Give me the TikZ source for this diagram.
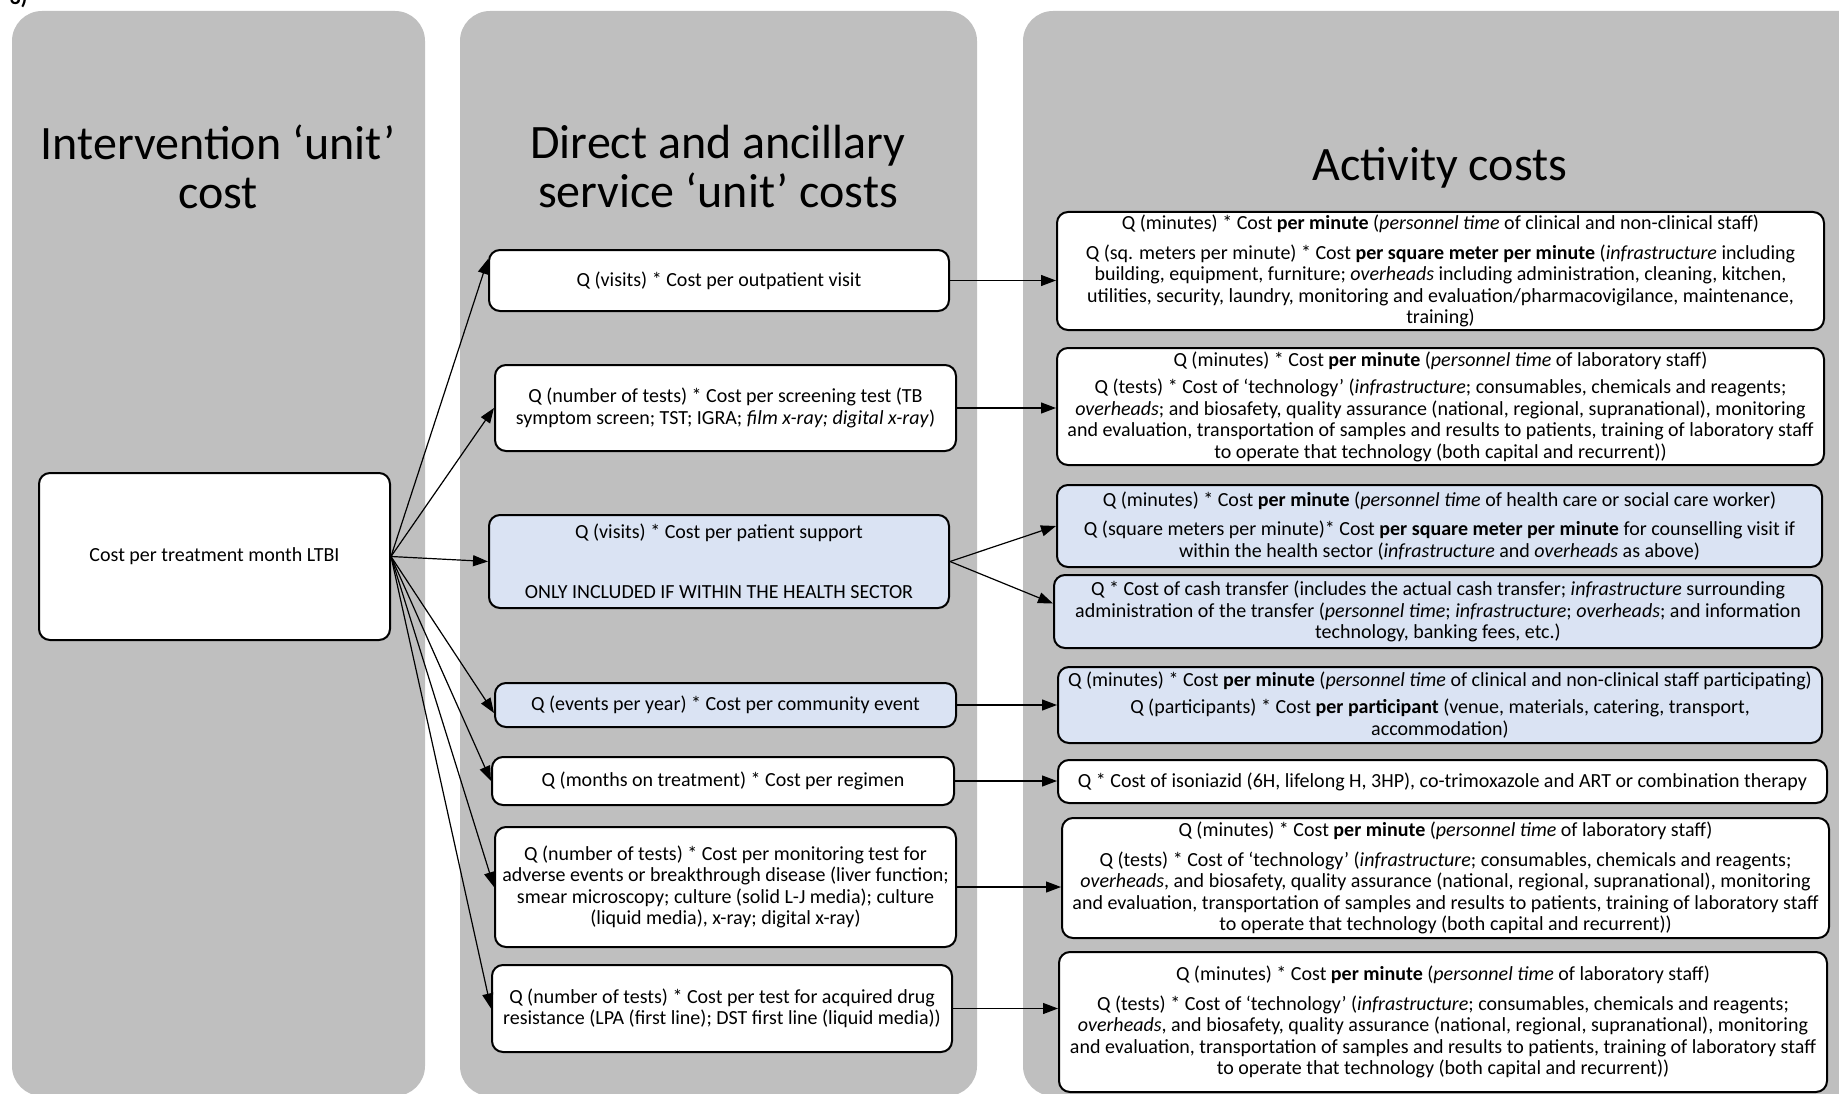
\documentclass[tikz,border=0pt]{standalone}
\usepackage{fontspec}
\setmainfont{Carlito}
\usetikzlibrary{arrows.meta}
\definecolor{panelgray}{HTML}{BFBFBF}
\definecolor{boxblue}{HTML}{DAE3F3}
\tikzset{
  panel/.style={fill=panelgray, rounded corners=30pt},
  costbox/.style={draw=black, line width=2pt, rounded corners=11pt, fill=white, align=center, inner sep=2pt, font=\fontsize{20}{21.5}\selectfont},
  bluebox/.style={costbox, fill=boxblue},
  heading/.style={align=center, font=\fontsize{48}{49}\selectfont},
  link/.style={-{Triangle[length=15pt,width=11pt]}, line width=1.2pt},
}
\begin{document}
\begin{tikzpicture}[x=1pt,y=-1pt]
\useasboundingbox (0,0) rectangle (1839,1094);
\fill[panel] (12,11) rectangle (425,1096);
\fill[panel] (460,11) rectangle (977,1096);
\fill[panel] (1023,11) rectangle (1880,1096);
\node[anchor=base west, font=\bfseries\fontsize{22}{22}\selectfont] (fig3) at (6,5) {3)};
\node[heading] (head1) at (218,166.5) {Intervention ‘unit’\\cost};
\node[heading] (head2) at (718,166.5) {Direct and ancillary\\service ‘unit’ costs};
\node[heading] (head3) at (1440,168) {Activity costs};
\node[costbox, minimum width=351pt, minimum height=167pt] (unit0) at (214.5,556.5) {Cost per treatment month LTBI};
\node[costbox, minimum width=460pt, minimum height=61pt] (serv1) at (719,280.5) {Q (visits) * Cost per outpatient visit};
\node[costbox, minimum width=461pt, minimum height=86pt] (serv2) at (725.5,408) {Q (number of tests) * Cost per screening test (TB\\symptom screen; TST; IGRA; \textit{film x-ray; digital x-ray})};
\node[bluebox, minimum width=460pt, minimum height=93pt] (serv3) at (719,561.5) {Q (visits) * Cost per patient support\\[38pt]ONLY INCLUDED IF WITHIN THE HEALTH SECTOR};
\node[bluebox, minimum width=461pt, minimum height=44pt] (serv4) at (725.5,705) {Q (events per year) * Cost per community event};
\node[costbox, minimum width=462pt, minimum height=48pt] (serv5) at (723,781) {Q (months on treatment) * Cost per regimen};
\node[costbox, minimum width=461pt, minimum height=120pt] (serv6) at (725.5,887) {Q (number of tests) * Cost per monitoring test for\\adverse events or breakthrough disease (liver function;\\smear microscopy; culture (solid L-J media); culture\\(liquid media), x-ray; digital x-ray)};
\node[costbox, minimum width=460pt, minimum height=87pt] (serv7) at (722,1008.5) {Q (number of tests) * Cost per test for acquired drug\\resistance (LPA (first line); DST first line (liquid media))};
\node[costbox, minimum width=767pt, minimum height=118pt] (act1) at (1440.5,271) {Q (minutes) * Cost \textbf{per minute} (\textit{personnel time} of clinical and non-clinical staff)\\[8pt]Q (sq. meters per minute) * Cost \textbf{per square meter per minute} (\textit{infrastructure} including\\building, equipment, furniture; \textit{overheads} including administration, cleaning, kitchen,\\utilities, security, laundry, monitoring and evaluation/pharmacovigilance, maintenance,\\training)};
\node[costbox, minimum width=767pt, minimum height=117pt] (act2) at (1440.5,406.5) {Q (minutes) * Cost \textbf{per minute} (\textit{personnel time} of laboratory staff)\\[6pt]Q (tests) * Cost of ‘technology’ (\textit{infrastructure}; consumables, chemicals and reagents;\\\textit{overheads}; and biosafety, quality assurance (national, regional, supranational), monitoring\\and evaluation, transportation of samples and results to patients, training of laboratory staff\\to operate that technology (both capital and recurrent))};
\node[bluebox, minimum width=765pt, minimum height=82pt] (act3) at (1439.5,526) {Q (minutes) * Cost \textbf{per minute} (\textit{personnel time} of health care or social care worker)\\[8pt]Q (square meters per minute)* Cost \textbf{per square meter per minute} for counselling visit if\\within the health sector (\textit{infrastructure} and \textit{overheads} as above)};
\node[bluebox, minimum width=768pt, minimum height=73pt] (act4) at (1438,611.5) {Q * Cost of cash transfer (includes the actual cash transfer; \textit{infrastructure} surrounding\\administration of the transfer (\textit{personnel time}; \textit{infrastructure}; \textit{overheads}; and information\\technology, banking fees, etc.)};
\node[bluebox, minimum width=764pt, minimum height=76pt] (act5) at (1440,705) {Q (minutes) * Cost \textbf{per minute} (\textit{personnel time} of clinical and non-clinical staff participating)\\[6pt]Q (participants) * Cost \textbf{per participant} (venue, materials, catering, transport,\\accommodation)};
\node[costbox, minimum width=769pt, minimum height=43pt] (act6) at (1442.5,781.5) {Q * Cost of isoniazid (6H, lifelong H, 3HP), co-trimoxazole and ART or combination therapy};
\node[costbox, minimum width=767pt, minimum height=120pt] (act7) at (1445.5,878) {Q (minutes) * Cost \textbf{per minute} (\textit{personnel time} of laboratory staff)\\[8pt]Q (tests) * Cost of ‘technology’ (\textit{infrastructure}; consumables, chemicals and reagents;\\\textit{overheads}, and biosafety, quality assurance (national, regional, supranational), monitoring\\and evaluation, transportation of samples and results to patients, training of laboratory staff\\to operate that technology (both capital and recurrent))};
\node[costbox, minimum width=768pt, minimum height=140pt] (act8) at (1443,1022) {Q (minutes) * Cost \textbf{per minute} (\textit{personnel time} of laboratory staff)\\[8pt]Q (tests) * Cost of ‘technology’ (\textit{infrastructure}; consumables, chemicals and reagents;\\\textit{overheads}, and biosafety, quality assurance (national, regional, supranational), monitoring\\and evaluation, transportation of samples and results to patients, training of laboratory staff\\to operate that technology (both capital and recurrent))};
\draw[link] (unit0.east) -- ([yshift=-10pt]serv1.north west);
\foreach \n in {2,3,5,6,7}
  \draw[link] (unit0.east) -- (serv\n.west);
\draw[link] (unit0.east) -- ([yshift=-8pt]serv4.west);
\draw[link] (serv1.east) -- (serv1.east -| act1.west);
\draw[link] (serv2.east) -- (serv2.east -| act2.west);
\draw[link] (serv3.east) -- (act3.west);
\draw[link] (serv3.east) -- ([yshift=8pt]act4.west);
\draw[link] (serv4.east) -- (serv4.east -| act5.west);
\draw[link] (serv5.east) -- (serv5.east -| act6.west);
\draw[link] (serv6.east) -- (serv6.east -| act7.west);
\draw[link] (serv7.east) -- (serv7.east -| act8.west);
\end{tikzpicture}
\end{document}
